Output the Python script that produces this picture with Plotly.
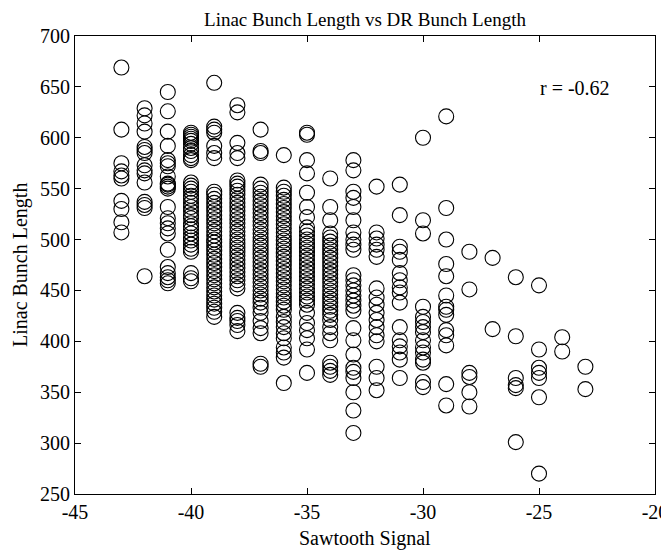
import plotly.graph_objects as go

# Sawtooth signal columns (x) and Linac bunch length values (y) per column
x_cols = [-43, -42, -41, -40, -39, -38, -37, -36, -35, -34, -33,
          -32, -31, -30, -29, -28, -27, -26, -25, -24, -23]

y_m43 = [669, 608, 575, 567, 563, 560, 538, 530, 517, 507]
y_m42 = [629, 622, 614, 606, 591, 588, 585, 573, 568, 565, 556, 537, 534, 531, 464]
y_m41 = [645, 626, 606, 592, 578, 575, 572, 562, 555, 554, 552, 550, 532, 521, 516,
         511, 506, 490, 473, 467, 463, 460, 457]
y_m40 = [605, 603, 601, 599, 597, 594, 590, 587, 583, 580, 578,
         556, 553, 550, 547, 543, 540, 536, 532, 528, 524, 521,
         516, 513, 510, 506, 502, 499, 495, 491, 488, 467, 462, 459]
y_m39 = [654, 611, 608, 605, 592, 585, 580,
         547, 544, 540, 536, 532, 528, 524, 520, 516, 512, 508, 504, 500, 497,
         493, 489, 485, 481, 477, 473, 469, 465, 461, 457, 453, 449, 445, 441,
         437, 433, 429, 424]
y_m38 = [632, 625, 595, 585, 580,
         558, 555, 552, 548, 544, 540, 536, 532, 528, 524, 520, 516, 512, 508,
         504, 500, 496, 492, 488, 484, 480, 476, 472, 468, 464, 460, 456, 452,
         428, 423, 420, 416, 410]
y_m37 = [608, 587, 585,
         554, 550, 546, 542, 538, 534, 530, 526, 522, 518, 514, 510, 506, 502,
         498, 494, 490, 486, 482, 478, 474, 470, 466, 462, 458, 454, 450, 446,
         442, 438, 433, 428, 420, 413, 408, 378, 375]
y_m36 = [583,
         551, 547, 543, 539, 535, 531, 527, 523, 519, 515, 511, 507, 503, 499,
         495, 491, 487, 483, 479, 475, 471, 467, 463, 459, 455, 451, 447, 443,
         439, 435, 431, 424, 419, 414, 408, 403, 394, 389, 384, 359]
y_m35 = [605, 603, 578, 565, 546, 532, 522, 512, 508, 504, 500, 496, 492, 488,
         484, 480, 476, 472, 468, 464, 460, 456, 452, 448, 444, 440, 436, 428,
         418, 411, 403, 392, 369]
y_m34 = [560, 532, 519, 506, 502, 498, 494, 490, 486, 482, 478, 474, 470, 466,
         462, 458, 454, 450, 446, 442, 438, 434, 430, 426, 421, 414, 408, 401,
         379, 375, 371, 367]
y_m33 = [578, 568, 547, 541, 532, 519, 507, 500, 495, 490, 465, 460, 455, 450,
         445, 440, 435, 430, 413, 401, 387, 374, 370, 364, 350, 332, 310]
y_m32 = [552, 507, 501, 495, 490, 483, 452, 443, 436, 428, 421, 414, 406, 400,
         375, 364, 352]
y_m31 = [554, 524, 493, 488, 480, 467, 460, 453, 448, 438, 414, 401, 395, 389,
         382, 364]
y_m30 = [600, 519, 506, 434, 424, 419, 414, 409, 401, 394, 389, 382, 379, 360, 355]
y_m29 = [621, 531, 500, 476, 464, 445, 434, 431, 426, 411, 406, 396, 358, 337]
y_m28 = [488, 451, 369, 365, 350, 336]
y_m27 = [482, 412]
y_m26 = [463, 405, 364, 357, 354, 301]
y_m25 = [455, 392, 374, 369, 364, 345, 270]
y_m24 = [404, 390]
y_m23 = [375, 353]

y_cols = [y_m43, y_m42, y_m41, y_m40, y_m39, y_m38, y_m37, y_m36, y_m35, y_m34,
          y_m33, y_m32, y_m31, y_m30, y_m29, y_m28, y_m27, y_m26, y_m25, y_m24,
          y_m23]

x_ticks = [-45, -40, -35, -30, -25, -20]
y_ticks = [250, 300, 350, 400, 450, 500, 550, 600, 650, 700]

xs, ys = [], []
for xv, yl in zip(x_cols, y_cols):
    xs.extend([xv] * len(yl))
    ys.extend(yl)

FONT = "Liberation Serif, Times New Roman, serif"

# The page body has an 8px margin, so the figure is offset by 8px.
W, H = 661, 544
L, R, T, B = 67, 14, 28, 58
plot_h = H - T - B

fig = go.Figure()
fig.add_trace(go.Scatter(
    x=xs, y=ys, mode="markers",
    marker=dict(symbol="circle-open", size=15, color="black",
                line=dict(width=1.1, color="black")),
    showlegend=False, hoverinfo="x+y"))

axis_common = dict(showline=True, linecolor="black", linewidth=1,
                   mirror="ticks", ticks="inside", ticklen=6, tickwidth=1,
                   tickcolor="black", showgrid=False, zeroline=False,
                   ticklabeloverflow="allow",
                   tickfont=dict(family=FONT, size=20, color="black"))

fig.update_xaxes(range=[-45, -20], tickvals=x_ticks,
                 ticktext=[str(v) for v in x_ticks], **axis_common)
fig.update_yaxes(range=[250, 700], tickvals=y_ticks,
                 ticktext=[str(v) for v in y_ticks], **axis_common)

fig.update_layout(
    width=W, height=H,
    margin=dict(l=L, r=R, t=T, b=B, autoexpand=False),
    paper_bgcolor="white", plot_bgcolor="white",
    font=dict(family=FONT, size=20, color="black"),
    title=dict(text="Linac Bunch Length vs DR Bunch Length",
               x=(L + (W - L - R) / 2) / W, xref="container",
               y=1 - 11 / H, yref="container",
               xanchor="center", yanchor="middle",
               font=dict(family=FONT, size=19, color="black")),
    annotations=[
        dict(text="Sawtooth Signal", xref="paper", yref="paper",
             x=0.5, y=-44 / plot_h, xanchor="center", yanchor="middle",
             showarrow=False, font=dict(family=FONT, size=20, color="black")),
        dict(text="Linac Bunch Length", xref="paper", yref="paper",
             x=(12 - L) / (W - L - R), y=0.5, xanchor="center", yanchor="middle",
             textangle=-90, showarrow=False,
             font=dict(family=FONT, size=20, color="black")),
        dict(text="r = -0.62", xref="x", yref="y", x=-23.45, y=649,
             xanchor="center", yanchor="middle", showarrow=False,
             font=dict(family=FONT, size=20, color="black")),
    ],
)

fig.write_html("out.html")
